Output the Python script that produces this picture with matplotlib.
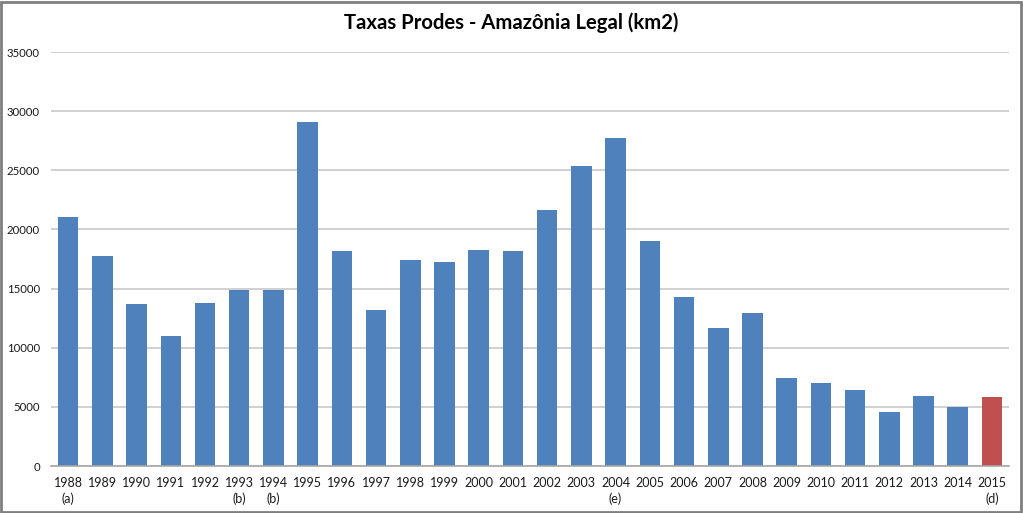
import matplotlib
matplotlib.use("Agg")
import matplotlib.pyplot as plt
from matplotlib.patches import Rectangle

years = list(range(1988, 2016))
notes = {1988: "(a)", 1993: "(b)", 1994: "(b)", 2004: "(e)", 2015: "(d)"}
values = [21050, 17770, 13730, 11030, 13786, 14896, 14896, 29059, 18161, 13227,
          17383, 17259, 18226, 18165, 21651, 25396, 27772, 19014, 14286, 11651,
          12911, 7464, 7000, 6418, 4571, 5891, 5012, 5831]
yticks = [0, 5000, 10000, 15000, 20000, 25000, 30000, 35000]

plt.rcParams['font.family'] = ['Lato', 'DejaVu Sans']

fig = plt.figure(figsize=(10.23, 5.13), dpi=100)
ax = fig.add_axes([0.0499, 0.0916, 0.9365, 0.807])

colors = ['#4F81BD'] * (len(years) - 1) + ['#C0504D']
x = list(range(len(years)))
ax.bar(x, values, width=0.6, color=colors, zorder=3)

ax.set_ylim(0, 35000)
ax.set_xlim(-0.5, len(years) - 0.5)
ax.set_yticks(yticks)
ax.set_yticklabels([str(t) for t in yticks], fontsize=8.2)
ax.set_xticks(x)
ax.set_xticklabels([f"{y}\n{notes.get(y, '')}" for y in years], fontsize=9, linespacing=1.35, va='top')
ax.tick_params(axis='both', length=0, colors='#1a1a1a')
ax.tick_params(axis='y', pad=8)
ax.tick_params(axis='x', pad=8)
ax.yaxis.grid(True, color='#C8C8C8', linewidth=1.2, zorder=0)
for s in ['top', 'right', 'left']:
    ax.spines[s].set_visible(False)
ax.spines['bottom'].set_color('#A6A6A6')
ax.spines['bottom'].set_linewidth(1.2)
ax.spines['bottom'].set_zorder(4)

fig.text(0.5, 0.955, "Taxas Prodes - Amazônia Legal (km2)", ha='center', va='center',
         fontsize=14.6, fontweight='bold')

fig.patches.append(Rectangle((0.001, 0.002), 0.997, 0.995, transform=fig.transFigure,
                             fill=False, edgecolor='#7F7F7F', linewidth=2))

fig.savefig("out.png", dpi=100)
